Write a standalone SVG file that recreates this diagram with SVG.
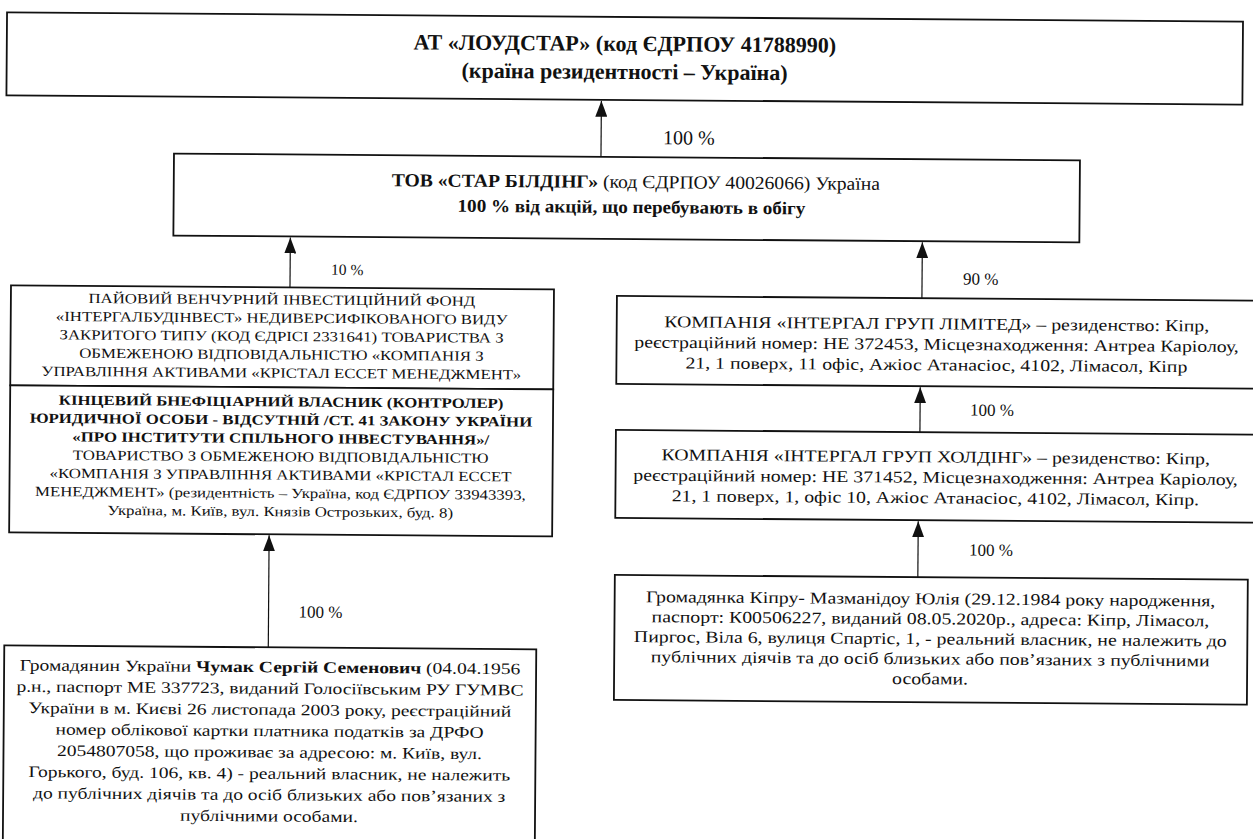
<svg xmlns="http://www.w3.org/2000/svg" width="1253" height="839" viewBox="0 0 1253 839">
<defs>
<style>
.box{fill:#fff;stroke:#111;stroke-width:1.8}
.ln{stroke:#111;stroke-width:1.2;fill:none}
.t{font-family:"Liberation Serif","Times New Roman",serif;fill:#111}
.c{text-anchor:middle}
.b{font-weight:bold}
.lab{font-family:"Liberation Serif","Times New Roman",serif;fill:#111}
</style>
<marker id="ah" markerUnits="userSpaceOnUse" markerWidth="16" markerHeight="12" refX="16" refY="6" orient="auto" viewBox="0 0 16 12">
<path d="M0,0 L16,6 L0,12 Z" fill="#111"/>
</marker>
</defs>
<rect width="1253" height="839" fill="#fff"/>
<g transform="rotate(0.43 626 420)">
<g id="n-loudstar">
<rect class="box" x="4" y="17" width="1236" height="83"/>
<text class="t c b" x="622" y="51" font-size="22">АТ «ЛОУДСТАР» (код ЄДРПОУ 41788990)</text>
<text class="t c b" x="622" y="79" font-size="22">(країна резидентності – Україна)</text>
</g>
<g id="n-star">
<rect class="box" x="172" y="157" width="906" height="82"/>
<g transform="translate(632 0) scale(1.06 1) translate(-632 0)">
<text class="t c" x="634" y="188" font-size="18.5"><tspan class="b">ТОВ «СТАР БІЛДІНГ»</tspan> (код ЄДРПОУ 40026066) Україна</text>
<text class="t c b" x="630" y="213" font-size="18">100 % від акцій, що перебувають в обігу</text>
</g>
</g>
<g id="n-fund">
<rect class="box" x="10" y="290" width="543" height="100"/>
<g transform="translate(281 0) scale(1.2 1) translate(-281 0)">
<text class="t c" x="281" y="307" font-size="14">ПАЙОВИЙ ВЕНЧУРНИЙ ІНВЕСТИЦІЙНИЙ ФОНД</text>
<text class="t c" x="281" y="325.3" font-size="14">«ІНТЕРГАЛБУДІНВЕСТ» НЕДИВЕРСИФІКОВАНОГО ВИДУ</text>
<text class="t c" x="281" y="343.6" font-size="14">ЗАКРИТОГО ТИПУ (КОД ЄДРІСІ 2331641) ТОВАРИСТВА З</text>
<text class="t c" x="281" y="361.9" font-size="14">ОБМЕЖЕНОЮ ВІДПОВІДАЛЬНІСТЮ «КОМПАНІЯ З</text>
<text class="t c" x="281" y="380.2" font-size="14">УПРАВЛІННЯ АКТИВАМИ «КРІСТАЛ ЕССЕТ МЕНЕДЖМЕНТ»</text>
</g>
</g>
<g id="n-controller">
<rect class="box" x="10" y="390" width="543" height="147"/>
<g transform="translate(281 0) scale(1.2 1) translate(-281 0)">
<text class="t c b" x="281" y="409" font-size="14">КІНЦЕВИЙ БНЕФІЦІАРНИЙ ВЛАСНИК (КОНТРОЛЕР)</text>
<text class="t c b" x="281" y="427.3" font-size="14">ЮРИДИЧНОЇ ОСОБИ - ВІДСУТНІЙ /СТ. 41 ЗАКОНУ УКРАЇНИ</text>
<text class="t c b" x="281" y="445.6" font-size="14">«ПРО ІНСТИТУТИ СПІЛЬНОГО ІНВЕСТУВАННЯ»/</text>
<text class="t c" x="281" y="463.9" font-size="14">ТОВАРИСТВО З ОБМЕЖЕНОЮ ВІДПОВІДАЛЬНІСТЮ</text>
<text class="t c" x="281" y="482.2" font-size="14">«КОМПАНІЯ З УПРАВЛІННЯ АКТИВАМИ «КРІСТАЛ ЕССЕТ</text>
<text class="t c" x="281" y="500.5" font-size="14">МЕНЕДЖМЕНТ» (резидентність – Україна, код ЄДРПОУ 33943393,</text>
<text class="t c" x="281" y="518.8" font-size="14">Україна, м. Київ, вул. Князів Острозьких, буд. 8)</text>
</g>
</g>
<g id="n-chumak">
<rect class="box" x="6" y="650" width="532" height="200"/>
<g transform="translate(272 0) scale(1.22 1) translate(-272 0)">
<text class="t c" x="272" y="675" font-size="16">Громадянин України <tspan class="b">Чумак Сергій Семенович</tspan> (04.04.1956</text>
<text class="t c" x="272" y="696.3" font-size="16">р.н., паспорт МЕ 337723, виданий Голосіївським РУ ГУМВС</text>
<text class="t c" x="272" y="717.6" font-size="16">України в м. Києві 26 листопада 2003 року, реєстраційний</text>
<text class="t c" x="272" y="738.9" font-size="16">номер облікової картки платника податків за ДРФО</text>
<text class="t c" x="272" y="760.2" font-size="16">2054807058, що проживає за адресою: м. Київ, вул.</text>
<text class="t c" x="272" y="781.5" font-size="16">Горького, буд. 106, кв. 4) - реальний власник, не належить</text>
<text class="t c" x="272" y="802.8" font-size="16">до публічних діячів та до осіб близьких або пов’язаних з</text>
<text class="t c" x="272" y="824.1" font-size="16">публічними особами.</text>
</g>
</g>
<g id="n-limited">
<rect class="box" x="616" y="296" width="650" height="88"/>
<g transform="translate(936 0) scale(1.2 1) translate(-936 0)">
<text class="t c" x="936" y="327" font-size="16.5">КОМПАНІЯ «ІНТЕРГАЛ ГРУП ЛІМІТЕД» – резиденство: Кіпр,</text>
<text class="t c" x="936" y="347.5" font-size="16.5">реєстраційний номер: НЕ 372453, Місцезнаходження: Антреа Каріолоу,</text>
<text class="t c" x="936" y="368" font-size="16.5">21, 1 поверх, 11 офіс, Ажіос Атанасіос, 4102, Лімасол, Кіпр</text>
</g>
</g>
<g id="n-holding">
<rect class="box" x="616" y="430" width="650" height="88"/>
<g transform="translate(936 0) scale(1.2 1) translate(-936 0)">
<text class="t c" x="936" y="460" font-size="16.5">КОМПАНІЯ «ІНТЕРГАЛ ГРУП ХОЛДІНГ» – резиденство: Кіпр,</text>
<text class="t c" x="936" y="480.5" font-size="16.5">реєстраційний номер: НЕ 371452, Місцезнаходження: Антреа Каріолоу,</text>
<text class="t c" x="936" y="501" font-size="16.5">21, 1 поверх, 1, офіс 10, Ажіос Атанасіос, 4102, Лімасол, Кіпр.</text>
</g>
</g>
<g id="n-mazmanidou">
<rect class="box" x="616" y="575" width="633" height="125"/>
<g transform="translate(932 0) scale(1.2 1) translate(-932 0)">
<text class="t c" x="932" y="602" font-size="16.5">Громадянка Кіпру- Мазманідоу Юлія (29.12.1984 року народження,</text>
<text class="t c" x="932" y="622" font-size="16.5">паспорт: К00506227, виданий 08.05.2020р., адреса: Кіпр, Лімасол,</text>
<text class="t c" x="932" y="642" font-size="16.5">Пиргос, Віла 6, вулиця Спартіс, 1, - реальний власник, не належить до</text>
<text class="t c" x="932" y="662" font-size="16.5">публічних діячів та до осіб близьких або пов’язаних з публічними</text>
<text class="t c" x="932" y="682" font-size="16.5">особами.</text>
</g>
</g>
<g id="connectors">
<line class="ln" x1="599" y1="157" x2="599" y2="101" marker-end="url(#ah)"/>
<text class="lab" x="661" y="144" font-size="20">100 %</text>
<line class="ln" x1="289" y1="290" x2="289" y2="240" marker-end="url(#ah)"/>
<text class="lab" x="330" y="277" font-size="15.5">10 %</text>
<line class="ln" x1="921" y1="296" x2="921" y2="240" marker-end="url(#ah)"/>
<text class="lab" x="962" y="282" font-size="17">90 %</text>
<line class="ln" x1="920" y1="430" x2="920" y2="385" marker-end="url(#ah)"/>
<text class="lab" x="970" y="413" font-size="17">100 %</text>
<line class="ln" x1="919" y1="575" x2="919" y2="519" marker-end="url(#ah)"/>
<text class="lab" x="970" y="553" font-size="17">100 %</text>
<line class="ln" x1="270" y1="650" x2="270" y2="538" marker-end="url(#ah)"/>
<text class="lab" x="300" y="620" font-size="17">100 %</text>
</g>
</g>
</svg>
